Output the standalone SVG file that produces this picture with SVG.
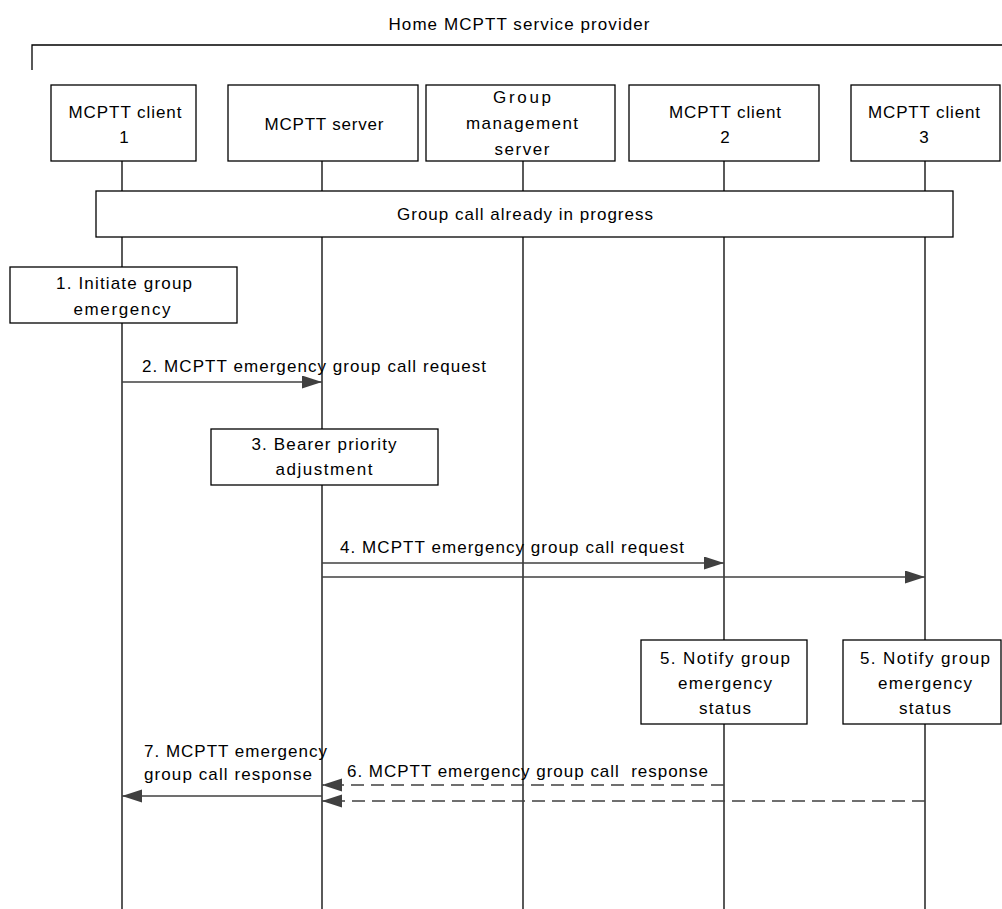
<svg xmlns="http://www.w3.org/2000/svg" width="1002" height="909" viewBox="0 0 1002 909">
<style>
text{font-family:"Liberation Sans",Arial,sans-serif;font-size:17px;fill:#000;text-anchor:middle}
.box{fill:#fff;stroke:#000;stroke-width:1.3}
.life{stroke:#000;stroke-width:1.3;fill:none}
.msg{stroke:#404040;stroke-width:1.3;fill:none}
.dash{stroke-dasharray:13 7}
.l{text-anchor:start}
</style>
<defs>
<marker id="ah" markerUnits="userSpaceOnUse" markerWidth="21" markerHeight="14" refX="20" refY="6.5" orient="auto">
<path d="M0,0 L20,6.5 L0,13 z" fill="#404040"/>
</marker>
</defs>
<g id="provider">
<text x="519" y="30" textLength="261" lengthAdjust="spacing">Home MCPTT service provider</text>
<path class="life" d="M32,70 V45 H1002"/>
</g>
<g id="lifelines">
<line class="life" x1="122" y1="161" x2="122" y2="909"/>
<line class="life" x1="322" y1="161" x2="322" y2="909"/>
<line class="life" x1="523" y1="161" x2="523" y2="909"/>
<line class="life" x1="724" y1="161" x2="724" y2="909"/>
<line class="life" x1="925" y1="161" x2="925" y2="909"/>
</g>
<g id="client1">
<rect class="box" x="51" y="85" width="145" height="76"/>
<text x="125" y="118" textLength="113" lengthAdjust="spacing">MCPTT client</text>
<text x="124" y="143">1</text>
</g>
<g id="server">
<rect class="box" x="228" y="85" width="190" height="76"/>
<text x="324" y="130" textLength="119" lengthAdjust="spacing">MCPTT server</text>
</g>
<g id="gms">
<rect class="box" x="426" y="85" width="189" height="76"/>
<text x="522" y="103" textLength="58" lengthAdjust="spacing">Group</text>
<text x="522" y="129" textLength="112" lengthAdjust="spacing">management</text>
<text x="522" y="155" textLength="55" lengthAdjust="spacing">server</text>
</g>
<g id="client2">
<rect class="box" x="629" y="85" width="190" height="76"/>
<text x="725" y="118" textLength="112" lengthAdjust="spacing">MCPTT client</text>
<text x="725" y="143">2</text>
</g>
<g id="client3">
<rect class="box" x="851" y="85" width="149" height="76"/>
<text x="924" y="118" textLength="112" lengthAdjust="spacing">MCPTT client</text>
<text x="924" y="143">3</text>
</g>
<g id="groupcall">
<rect class="box" x="96" y="191" width="857" height="46"/>
<text x="525" y="220" textLength="256" lengthAdjust="spacing">Group call already in progress</text>
</g>
<g id="step1">
<rect class="box" x="10" y="267" width="227" height="56"/>
<text x="124" y="289" textLength="136" lengthAdjust="spacing">1. Initiate group</text>
<text x="122" y="315" textLength="97" lengthAdjust="spacing">emergency</text>
</g>
<g id="step3">
<rect class="box" x="211" y="429" width="227" height="56"/>
<text x="324" y="450" textLength="145" lengthAdjust="spacing">3. Bearer priority</text>
<text x="324" y="475" textLength="97" lengthAdjust="spacing">adjustment</text>
</g>
<g id="step5a">
<rect class="box" x="641" y="640" width="166" height="84"/>
<text x="725" y="664" textLength="130" lengthAdjust="spacing">5. Notify group</text>
<text x="725" y="689" textLength="94" lengthAdjust="spacing">emergency</text>
<text x="725" y="714" textLength="52" lengthAdjust="spacing">status</text>
</g>
<g id="step5b">
<rect class="box" x="843" y="640" width="158" height="84"/>
<text x="925" y="664" textLength="130" lengthAdjust="spacing">5. Notify group</text>
<text x="925" y="689" textLength="94" lengthAdjust="spacing">emergency</text>
<text x="925" y="714" textLength="52" lengthAdjust="spacing">status</text>
</g>
<g id="connectors">
<line class="msg" x1="122" y1="382" x2="322" y2="382" marker-end="url(#ah)"/>
<text class="l" x="142" y="372" textLength="344" lengthAdjust="spacing">2. MCPTT emergency group call request</text>
<line class="msg" x1="322" y1="563" x2="724" y2="563" marker-end="url(#ah)"/>
<line class="msg" x1="322" y1="577" x2="925" y2="577" marker-end="url(#ah)"/>
<text class="l" x="340" y="553" textLength="344" lengthAdjust="spacing">4. MCPTT emergency group call request</text>
<line class="msg dash" x1="724" y1="785" x2="322" y2="785" marker-end="url(#ah)"/>
<line class="msg dash" x1="925" y1="801" x2="322" y2="801" marker-end="url(#ah)"/>
<text class="l" x="347" y="777" textLength="361" lengthAdjust="spacing" xml:space="preserve">6. MCPTT emergency group call  response</text>
<line class="msg" x1="322" y1="796" x2="122" y2="796" marker-end="url(#ah)"/>
<text class="l" x="144" y="757" textLength="183" lengthAdjust="spacing">7. MCPTT emergency</text>
<text class="l" x="144" y="780" textLength="168" lengthAdjust="spacing">group call response</text>
</g>
</svg>
